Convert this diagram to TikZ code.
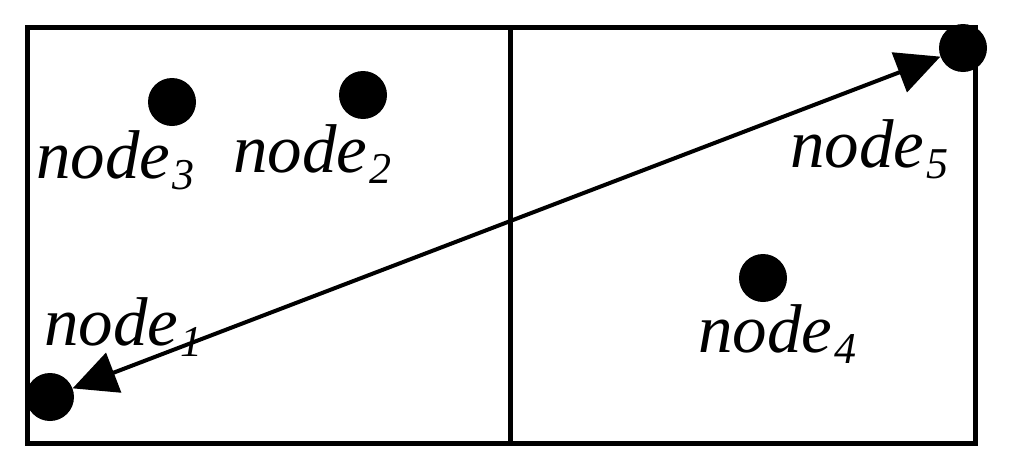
\documentclass[tikz,border=0pt]{standalone}
\usepackage{fontspec}
\setmainfont{Liberation Serif}
\usetikzlibrary{arrows.meta}
\newcommand{\nlbl}[1]{node\kern2pt\raisebox{-11pt}{\fontsize{44}{44}\selectfont #1}}
\begin{document}
\begin{tikzpicture}[x=1pt,y=-1pt,
  dot/.style={circle,fill=black,minimum size=48pt,inner sep=0pt},
  lbl/.style={anchor=base west,inner sep=0pt,font=\fontsize{69}{69}\selectfont\itshape},
  frame/.style={line width=5pt},
  link/.style={line width=4pt,{Triangle[length=44pt,width=42pt]}-{Triangle[length=44pt,width=42pt]}}]
\useasboundingbox (0,0) rectangle (1012,474);
\draw[frame] (27,27) rectangle (975,443);
\draw[frame] (510,27) -- (510,443);
\node[dot] (n1) at (50,397) {};
\node[dot] (n2) at (363,95) {};
\node[dot] (n3) at (172,102) {};
\node[dot] (n4) at (763,278) {};
\node[dot] (n5) at (963,48) {};
\node[lbl] (l1) at (44,345) {\nlbl{1}};
\node[lbl] (l2) at (233,172) {\nlbl{2}};
\node[lbl] (l3) at (36,178) {\nlbl{3}};
\node[lbl] (l4) at (698,352) {\nlbl{4}};
\node[lbl] (l5) at (790,167) {\nlbl{5}};
\draw[link] (n1) -- (n5);
\end{tikzpicture}
\end{document}
